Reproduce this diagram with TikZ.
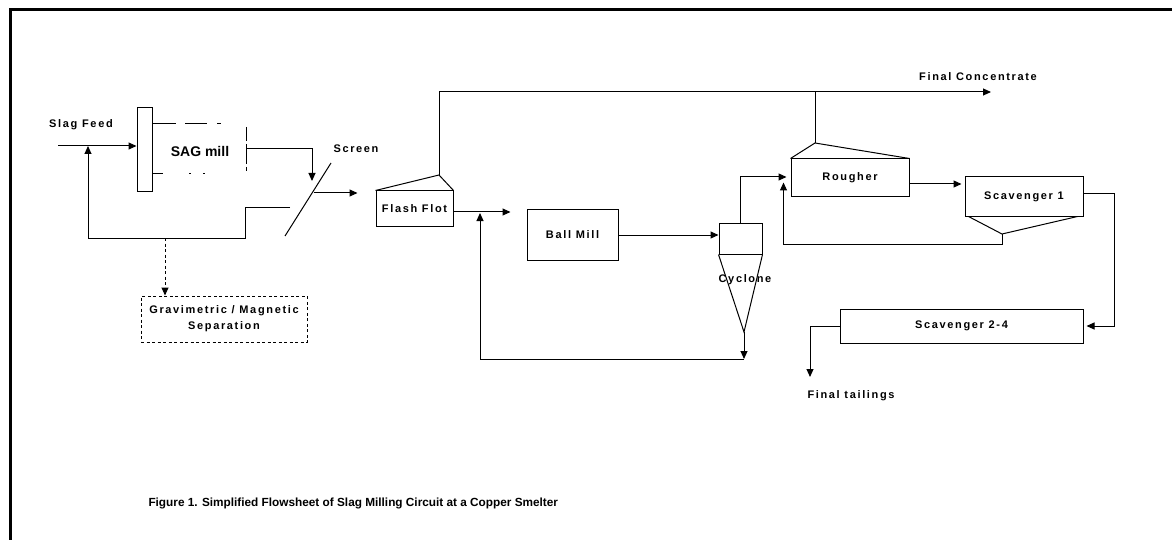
\documentclass[tikz,border=0pt]{standalone}
\usepackage{fontspec}
\setmainfont{Liberation Sans}
\newfontfamily\labfont[LetterSpace=15]{Liberation Sans}
\usetikzlibrary{arrows.meta,calc}

\begin{document}
\begin{tikzpicture}[x=1pt, y=-1pt,
  >={Triangle[length=8pt,width=7pt]},
  line width=1pt,
  unit/.style={draw, rectangle, inner sep=0pt},
  lab/.style={font=\labfont\bfseries\fontsize{11}{16}\selectfont, inner sep=0pt, align=center},
  dotflow/.style={dash pattern=on 3pt off 2.5pt}
]
\useasboundingbox (0,0) rectangle (1172,540);
% page frame
\draw[line width=3pt] (10,540) -- (10,10) -- (1172,10);
% feed and SAG mill
\node[lab] (slag) at (81,125) {Slag Feed};
\node[unit, minimum width=15pt, minimum height=84pt] (bar) at (144.5,150) {};
\coordinate (feedin) at (58,146);
\draw[->] (feedin) -- (feedin -| bar.west);
\node[font=\bfseries\fontsize{14}{16}\selectfont, inner sep=0pt] (sag) at (200,151) {SAG mill};
\draw[dash pattern=on 23pt off 9pt on 22pt off 10pt on 4pt] (153,124) -- (222,124);
\draw[dash pattern=on 10pt off 26pt on 2pt off 12pt on 2pt] (153,174) -- (205,174);
\draw[dash pattern=on 14pt off 3pt on 20pt off 3pt] (246,127) -- (246,171);
% screen
\coordinate (scrlo) at (285,236);
\coordinate (scrhi) at (331,163);
\draw (scrlo) -- (scrhi);
\node[lab] (scrlab) at (356,149) {Screen};
\coordinate (sagout) at (246,149);
\coordinate (scrtop) at (312,181);
\draw[->] (sagout) -| (scrtop);
% screen undersize back to feed
\coordinate (scrunder) at (290,208);
\coordinate (rec) at (88,238);
\draw[->] (scrunder) -- (245,208) -- (245,238) -- (rec) -- (rec |- feedin);
\node[unit, dotflow, lab, minimum width=166pt, minimum height=46pt] (grav) at (224,319)
  {Gravimetric / Magnetic\\Separation};
\coordinate (gravtap) at (165,238);
\draw[->, dotflow] (gravtap) -- (gravtap |- grav.north);
% flash flotation
\node[unit, lab, minimum width=77pt, minimum height=35pt] (flash) at (414.5,208.5) {Flash Flot};
\coordinate (scrover) at (314,193);
\draw[->, shorten >=18pt] (scrover) -- (scrover -| flash.west);
\coordinate (flashtop) at (439,175);
\draw (flash.north west) -- (flashtop) -- (flash.north east);
\coordinate (conc) at (439,92);
\coordinate (concend) at (991,92);
\draw[->] (flashtop) -- (conc) -- (concend);
\node[lab] (conclab) at (978,77) {Final Concentrate};
% ball mill and cyclone
\node[unit, lab, minimum width=91pt, minimum height=50pt] (ball) at (572.5,235) {Ball Mill};
\coordinate (flashout) at (453,212);
\draw[->, shorten >=16pt] (flashout) -- (flashout -| ball.west);
\node[unit, minimum width=43pt, minimum height=31pt] (cyc) at (740.5,238.5) {};
\draw[->] (ball.east) -- (ball.east -| cyc.west);
\coordinate (cyctip) at (744,332);
\draw (cyc.south west) -- (cyctip) -- (cyc.south east);
\node[lab] (cyclab) at (745,280) {Cyclone};
\coordinate (cycunder) at (744,359);
\draw[->] (cyctip) -- (cycunder);
\coordinate (ballin) at (480,213);
\draw[->] (cycunder) -| (ballin);
% rougher and scavengers
\node[unit, lab, minimum width=118pt, minimum height=38pt] (rough) at (850,178) {Rougher};
\coordinate (roughtop) at (815,143);
\draw (rough.north west) -- (roughtop) -- (rough.north east);
\draw (roughtop) -- (roughtop |- conc);
\draw[->] (cyc.north) |- ($(rough.west)+(-4,-1)$);
\node[unit, lab, minimum width=118pt, minimum height=39pt] (scav1) at (1024,196.5) {Scavenger 1};
\draw[->, shorten >=3pt] ($(rough.east)+(0,6)$) -- ($(scav1.west)+(0,-12.5)$);
\coordinate (scavbot) at (1002,234);
\draw ($(scav1.south west)+(4,0)$) -- (scavbot) -- ($(scav1.south east)+(-6,0)$);
\draw[->] (scavbot) -- ++(0,10) -| ($(rough.south west)+(-7,-15)$);
\node[unit, lab, minimum width=243pt, minimum height=34pt] (scav24) at (961.5,326) {Scavenger 2-4};
\coordinate (scavloop) at (1114,194);
\draw[->, shorten >=3pt] (scav1.east |- scavloop) -- (scavloop) |- (scav24.east);
\coordinate (tail) at (810,377);
\draw[->] (scav24.west) -| (tail);
\node[lab, anchor=west] (taillab) at (807,396) {Final tailings};
% caption
\node[font=\bfseries\fontsize{11.8}{14}\selectfont, anchor=west, inner sep=0pt] (caption) at (148,503)
  {Figure 1. Simplified Flowsheet of Slag Milling Circuit at a Copper Smelter};
\end{tikzpicture}
\end{document}
